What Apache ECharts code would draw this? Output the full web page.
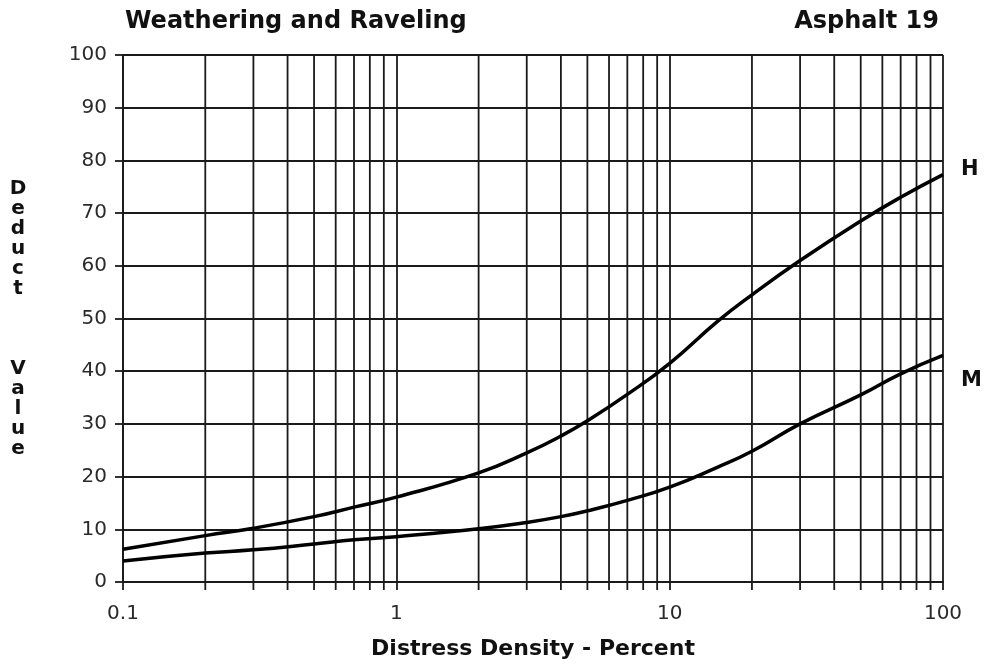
<!DOCTYPE html>
<html>
<head>
<meta charset="utf-8">
<script src="https://cdn.jsdelivr.net/npm/echarts@6/dist/echarts.min.js"></script>
<style>html,body{margin:0;padding:0;background:#fff}#c{width:989px;height:668px}</style>
</head>
<body>
<div id="c"></div>
<script>
// ---- data ----
var densities = [0.1, 0.2, 0.3, 0.5, 0.7, 1, 2, 3, 4, 5, 7, 10, 15, 20, 30, 50, 70, 100];
var hValues   = [6.2, 8.8, 10.2, 12.4, 14.2, 16.1, 20.7, 24.5, 27.7, 30.6, 35.6, 41.5, 49.5, 54.5, 61, 68.5, 73, 77.3];
var mValues   = [4.0, 5.5, 6.1, 7.2, 8.0, 8.6, 10.1, 11.3, 12.4, 13.5, 15.5, 18, 21.8, 24.8, 30, 35.5, 39.5, 43];
var minorGrid = [0.2,0.3,0.4,0.5,0.6,0.7,0.8,0.9, 2,3,4,5,6,7,8,9, 20,30,40,50,60,70,80,90];
var xTickLabels = {0.1: '0.1', 1: '1', 10: '10', 100: '100'};
var yMin = 0, yMax = 100, yStep = 10;
var xMin = 0.1, xMax = 100;

function pairs(xs, ys) { return xs.map(function (x, i) { return [x, ys[i]]; }); }

var chart = echarts.init(document.getElementById('c'));
var gridColor = '#1a1a1a';
var gridWidth = 1.8;
var font = 'DejaVu Sans, Verdana, sans-serif';
chart.setOption({
  animation: false,
  backgroundColor: '#fff',
  title: [
    { text: 'Weathering and Raveling', left: 120, top: 5,
      textStyle: { fontFamily: font, fontSize: 24, fontWeight: 'bold', color: '#111' } },
    { text: 'Asphalt 19', right: 45, top: 5,
      textStyle: { fontFamily: font, fontSize: 24, fontWeight: 'bold', color: '#111' } }
  ],
  grid: { left: 123, right: 46, top: 55, bottom: 86, containLabel: false },
  xAxis: {
    type: 'log', logBase: 10, min: xMin, max: xMax,
    name: 'Distress Density - Percent', nameLocation: 'middle', nameGap: 56,
    nameTextStyle: { fontFamily: font, fontSize: 22, fontWeight: 'bold', color: '#111' },
    axisLine: { show: true, lineStyle: { color: gridColor, width: gridWidth } },
    axisTick: { show: true, length: 8, lineStyle: { color: gridColor, width: gridWidth } },
    axisLabel: { margin: 22, fontFamily: font, fontSize: 20, color: '#2a2a2a',
      formatter: function (v) { var k = +v.toPrecision(3); return xTickLabels[k] || ''; } },
    splitLine: { show: true, lineStyle: { color: gridColor, width: gridWidth } }
  },
  yAxis: {
    type: 'value', min: yMin, max: yMax, interval: yStep,
    name: 'D\ne\nd\nu\nc\nt\n\n\n\nV\na\nl\nu\ne', nameLocation: 'middle', nameGap: 105, nameRotate: 0,
    nameTextStyle: { fontFamily: font, fontSize: 20, fontWeight: 'bold', color: '#111', align: 'center', lineHeight: 20 },
    axisLine: { show: true, lineStyle: { color: gridColor, width: gridWidth } },
    axisTick: { show: true, length: 8, lineStyle: { color: gridColor, width: gridWidth } },
    axisLabel: { margin: 16, fontFamily: font, fontSize: 20, color: '#2a2a2a' },
    splitLine: { show: true, lineStyle: { color: gridColor, width: gridWidth } }
  },
  series: [
    {
      type: 'custom', name: 'minorGrid', silent: true, clip: false, z: 1,
      data: minorGrid.map(function (v) { return [v]; }),
      encode: { x: 0 },
      renderItem: function (params, api) {
        var v = api.value(0);
        var top = api.coord([v, yMax]);
        var bot = api.coord([v, yMin]);
        return { type: 'line', shape: { x1: top[0], y1: top[1], x2: bot[0], y2: bot[1] + 8 },
          style: { stroke: gridColor, lineWidth: gridWidth } };
      }
    },
    {
      type: 'line', name: 'H', data: pairs(densities, hValues), smooth: 0.5,
      showSymbol: false, symbol: 'none', z: 5,
      lineStyle: { color: '#000', width: 3.5 },
      endLabel: { show: true, formatter: '{a}', distance: 18, offset: [0, -5],
        fontFamily: font, fontSize: 21, fontWeight: 'bold', color: '#111' }
    },
    {
      type: 'line', name: 'M', data: pairs(densities, mValues), smooth: 0.5,
      showSymbol: false, symbol: 'none', z: 5,
      lineStyle: { color: '#000', width: 3.5 },
      endLabel: { show: true, formatter: '{a}', distance: 18, offset: [0, 25],
        fontFamily: font, fontSize: 21, fontWeight: 'bold', color: '#111' }
    }
  ]
});
</script>
</body>
</html>
